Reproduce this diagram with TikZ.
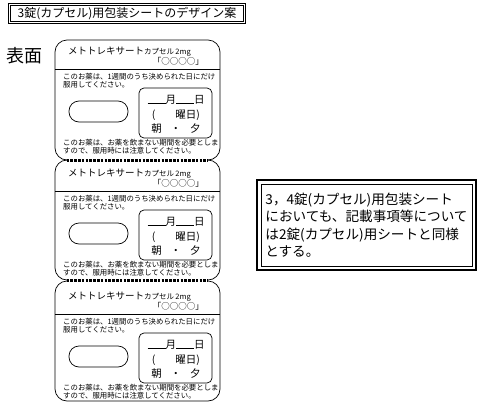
\documentclass[tikz,border=0pt]{standalone}
\usepackage{fontspec}
\setmainfont{Noto Sans CJK JP}
\usepackage{tikz}
\usetikzlibrary{positioning}

\newcommand{\fsize}[1]{\fontsize{#1}{#1}\selectfont}

\begin{document}
\begin{tikzpicture}[x=1pt, y=-1pt,
                      titlenode/.style={rectangle, draw, line width=0.6pt, double, double distance=1.4pt, minimum width=235pt, minimum height=18pt, inner sep=0pt, font=\fsize{12}},
                      notenode/.style={rectangle, draw, line width=0.8pt, minimum width=211pt, minimum height=82pt, align=left, font=\fontsize{13.6}{17.5}\selectfont},
                      sheetnode/.style={rectangle, draw, line width=0.7pt, rounded corners=12pt, minimum width=165pt, minimum height=120pt, inner sep=0pt},
                      pillnode/.style={rectangle, draw, line width=0.7pt, rounded corners=10pt, minimum width=59pt, minimum height=21pt, inner sep=0pt},
                      datenode/.style={rectangle, draw, line width=0.7pt, rounded corners=5pt, minimum width=73pt, minimum height=50pt, inner sep=0pt},
                      textnode/.style={inner sep=0pt, align=left, font=\fontsize{7.4}{8}\selectfont},
                      dayline/.style={inner sep=0pt, font=\fsize{10.5}},
                      perforation/.style={line width=2.4pt, dash pattern=on 2.6pt off 1.2pt, preaction={draw=white, solid, line width=2.8pt}},
                  ]
                      \useasboundingbox (0,0) rectangle (480,405);

                      %Nodes
                      \node[titlenode]    (title)    at (127,13.5)   {3錠(カプセル)用包装シートのデザイン案};
                      \node[inner sep=0pt, font=\fsize{18}]    (front)    at (24,56)    {表面};

                      \foreach \i/\m/\t in {1/100/38, 2/220/160, 3/341/283} {
                          \node[sheetnode]    (sheet\i)    at (137.5,\m)    {};
                          \node[textnode, anchor=west]    (drug\i)    at (68,\t+14)    {\fsize{9.5}メトトレキサート{\fsize{7.5}カプセル\,2mg}};
                          \node[textnode, anchor=east, font=\fsize{8.5}]    (brand\i)    at (204,\t+23)    {「○○○○」};
                          \draw[line width=0.7pt] (55,\t+31) -- (220,\t+31);
                          \node[textnode, anchor=north west]    (rule\i)    at (63,\t+35.5)    {このお薬は、1週間のうち決められた日にだけ\\服用してください。};
                          \node[pillnode]    (pill\i)    at (98.5,\t+73.5)    {};
                          \node[datenode]    (date\i)    at (175.5,\t+75)    {};
                          \node[dayline]    (day\i)    at (176,\t+62)    {\rule{18pt}{0.7pt}月\rule{18pt}{0.7pt}日};
                          \node[dayline]    (week\i)    at (176,\t+77)    {(\hspace{20pt}曜日)};
                          \node[dayline]    (time\i)    at (176,\t+91)    {朝\hspace{9pt}・\hspace{9pt}夕};
                          \node[textnode, anchor=north west]    (warn\i)    at (63,\t+101.5)    {このお薬は、お薬を飲まない期間を必要としま\\すので、服用時には注意してください。};
                      }

                      \node[notenode]    (note)    at (366.5,225)    {3，4錠(カプセル)用包装シート\\においても、記載事項等について\\は2錠(カプセル)用シートと同様\\とする。};

                      %Lines
                      \draw[perforation] ([xshift=12pt]sheet1.south west) -- ([xshift=-12pt]sheet1.south east);
                      \draw[perforation] ([xshift=12pt]sheet2.south west) -- ([xshift=-12pt]sheet2.south east);
                      \draw[line width=2pt] ([xshift=-3.5pt,yshift=3.5pt]note.north west) rectangle ([xshift=3.5pt,yshift=-3.5pt]note.south east);
                  \end{tikzpicture}
\end{document}
